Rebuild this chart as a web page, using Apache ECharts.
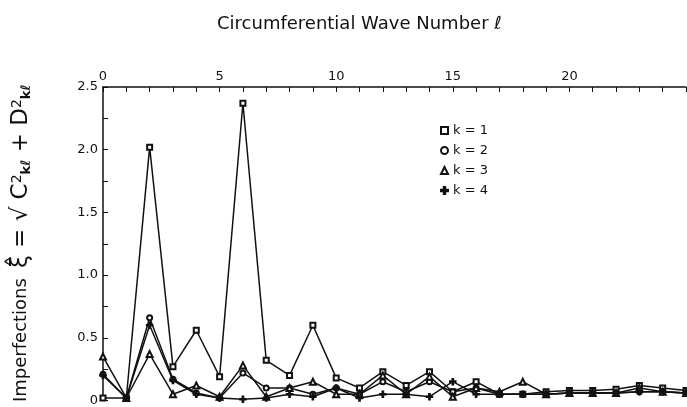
<!DOCTYPE html>
<html>
<head>
<meta charset="utf-8">
<script src="https://cdn.jsdelivr.net/npm/echarts@6/dist/echarts.min.js"></script>
<style>
  html, body { margin: 0; padding: 0; background: #fff; }
  #chart { width: 687px; height: 407px; }
</style>
</head>
<body>
<div id="chart"></div>
<script>
// wave number l = 0..25
var waveNumbers = [0,1,2,3,4,5,6,7,8,9,10,11,12,13,14,15,16,17,18,19,20,21,22,23,24,25];
var k1 = [0.02,0.02,2.02,0.27,0.56,0.19,2.37,0.32,0.20,0.60,0.18,0.10,0.23,0.12,0.23,0.07,0.15,0.05,0.05,0.07,0.08,0.08,0.09,0.12,0.10,0.08];
var k2 = [0.21,0.02,0.66,0.17,0.06,0.02,0.22,0.10,0.10,0.05,0.10,0.05,0.15,0.07,0.15,0.07,0.10,0.05,0.05,0.05,0.06,0.06,0.06,0.07,0.07,0.06];
var k3 = [0.35,0.02,0.37,0.05,0.12,0.03,0.28,0.03,0.10,0.15,0.05,0.05,0.20,0.05,0.19,0.03,0.10,0.07,0.15,0.05,0.06,0.06,0.06,0.10,0.07,0.06];
var k4 = [0.20,0.02,0.60,0.16,0.05,0.02,0.01,0.02,0.05,0.03,0.10,0.02,0.05,0.05,0.03,0.15,0.05,0.05,0.05,0.05,0.06,0.06,0.06,0.07,0.07,0.06];
var xTicks = [0,5,10,15,20];
var yTicks = [0,0.5,1.0,1.5,2.0,2.5];

var plusPath = 'path://M4,0H6V4H10V6H6V10H4V6H0V4H4Z';

function pairs(arr){
    return arr.map(function(v,i){ return [waveNumbers[i], v]; });
}

function mkSeries(name, data, symbol, size){
    return {
        name: name,
        type: 'line',
        data: pairs(data),
        symbol: symbol,
        symbolSize: size,
        lineStyle: { color: '#111', width: 1.5 },
        itemStyle: { color: '#111', borderColor: '#111', borderWidth: 1.5 },
        emphasis: { disabled: true },
        animation: false
    };
}

var myChart = echarts.init(document.getElementById('chart'));
myChart.setOption({
    backgroundColor: '#fff',
    title: {
        text: 'Circumferential Wave Number \u2113',
        left: 212,
        top: 10,
        textStyle: { fontFamily: 'DejaVu Sans', fontWeight: 'normal', fontSize: 18, color: '#111' }
    },
    legend: {
        orient: 'vertical',
        left: 435,
        top: 119,
        itemGap: 7,
        itemWidth: 7,
        itemHeight: 7,
        textStyle: { fontFamily: 'DejaVu Sans', fontSize: 13, color: '#111' },
        data: [
            { name: 'k = 1', icon: 'emptyRect' },
            { name: 'k = 2', icon: 'emptyCircle' },
            { name: 'k = 3', icon: 'emptyTriangle' },
            { name: 'k = 4', icon: plusPath }
        ]
    },
    graphic: [{
        type: 'text',
        x: 10,
        y: 402,
        rotation: Math.PI / 2,
        style: {
            text: '{a|Imperfections}   {b|\u03be\u0302 = \u221a }{b|C}{s|2}{d|k\u2113}{b| + D}{s|2}{d|k\u2113}',
            fill: '#111',
            rich: {
                a: { fontFamily: 'DejaVu Sans', fontSize: 18, fill: '#111' },
                b: { fontFamily: 'DejaVu Sans', fontSize: 23, fill: '#111' },
                s: { fontFamily: 'DejaVu Sans', fontSize: 14, fill: '#111', verticalAlign: 'top' },
                d: { fontFamily: 'DejaVu Sans', fontSize: 13, fontWeight: 'bold', fill: '#111', verticalAlign: 'bottom' }
            }
        }
    }],
    grid: { left: 103, right: 1, top: 87, bottom: 5 },
    xAxis: {
        type: 'value',
        position: 'top',
        min: 0,
        max: 25,
        interval: 5,
        axisLine: { show: true, onZero: false, lineStyle: { color: '#111', width: 1.5 } },
        axisTick: { show: true, inside: true, length: 5, lineStyle: { color: '#111' } },
        minorTick: { show: true, splitNumber: 5, length: 5, lineStyle: { color: '#111' } },
        splitLine: { show: false },
        axisLabel: {
            color: '#111', fontFamily: 'DejaVu Sans', fontSize: 13, margin: 4,
            showMaxLabel: false,
            formatter: function(v){ return xTicks.indexOf(v) >= 0 ? String(v) : ''; }
        }
    },
    yAxis: {
        type: 'value',
        min: 0,
        max: 2.5,
        interval: 0.5,
        axisLine: { show: true, lineStyle: { color: '#111', width: 1.5 } },
        axisTick: { show: true, inside: true, length: 5, lineStyle: { color: '#111' } },
        minorTick: { show: true, splitNumber: 2, length: 5, lineStyle: { color: '#111' } },
        splitLine: { show: false },
        axisLabel: {
            color: '#111', fontFamily: 'DejaVu Sans', fontSize: 13, margin: 5,
            formatter: function(v){
                var t = yTicks.indexOf(v);
                if (t < 0) return '';
                return v === 0 ? '0' : v.toFixed(1);
            }
        }
    },
    series: [
        mkSeries('k = 1', k1, 'emptyRect', 5),
        mkSeries('k = 2', k2, 'emptyCircle', 5),
        mkSeries('k = 3', k3, 'emptyTriangle', 6),
        mkSeries('k = 4', k4, plusPath, 6)
    ]
});
</script>
</body>
</html>
